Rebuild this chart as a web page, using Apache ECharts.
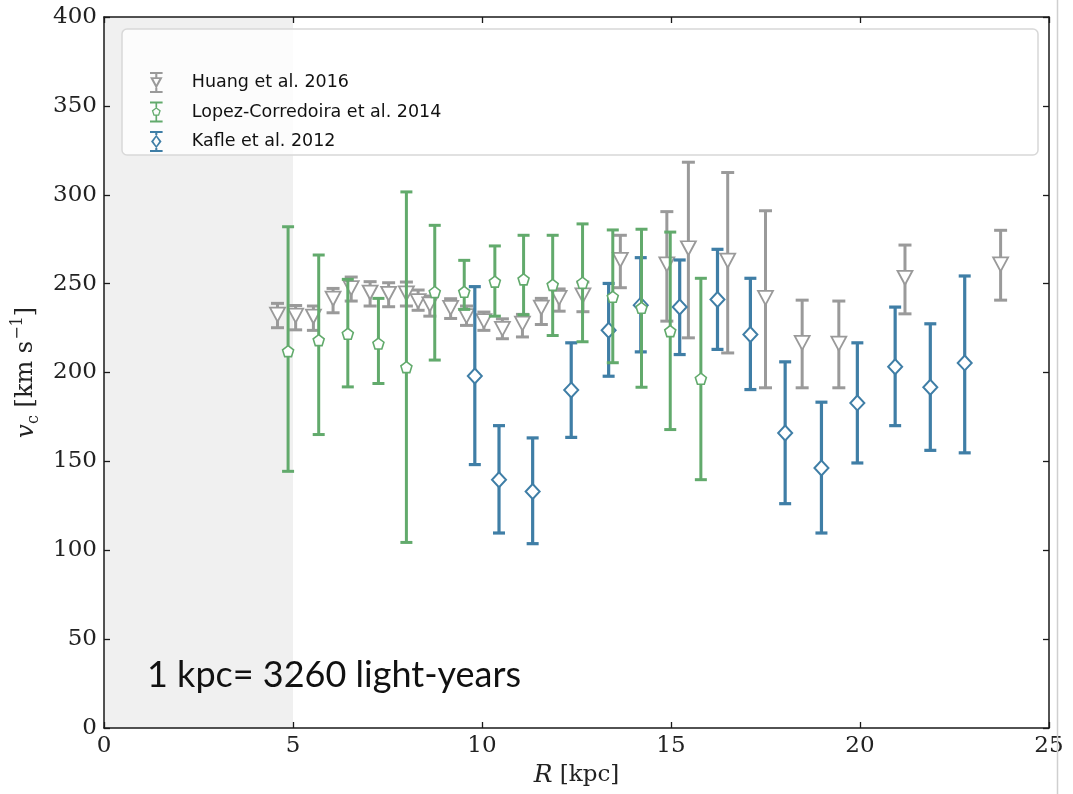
<!DOCTYPE html>
<html>
<head>
<meta charset="utf-8">
<script src="https://cdn.jsdelivr.net/npm/echarts@6/dist/echarts.min.js"></script>
<style>
  html, body { margin: 0; padding: 0; background: #ffffff; }
  #chart { width: 1073px; height: 794px; }
</style>
</head>
<body>
<div id="chart"></div>
<script>
// ---------- data ----------
const xTicks = [0, 5, 10, 15, 20, 25];
const yTicks = [0, 50, 100, 150, 200, 250, 300, 350, 400];
const shadedRange = [0, 5];

// Huang et al. 2016
const huangR  = [4.59, 5.07, 5.54, 6.06, 6.54, 7.04, 7.53, 8.00, 8.31, 8.62, 9.17, 9.59, 10.05, 10.54, 11.07, 11.57, 12.04, 12.67, 13.66, 14.89, 15.46, 16.50, 17.50, 18.47, 19.44, 21.19, 23.72];
const huangV  = [232.5, 232, 231.5, 241.5, 247.5, 245, 244.3, 244.5, 240.2, 238.3, 236.4, 231.7, 228.9, 224.6, 227.5, 236.5, 242, 243.4, 263.3, 260.8, 269.9, 262.9, 242, 216.7, 216.3, 253.3, 260.8];
const huangHi = [238.9, 237.7, 237.4, 247.3, 253.7, 251.1, 250.5, 250.9, 246.4, 243, 241.5, 237.4, 234, 230.2, 232.7, 241.7, 247, 250.9, 277.2, 290.5, 318.3, 312.5, 291, 240.7, 240.2, 271.7, 280];
const huangLo = [225.2, 224, 223.7, 233.6, 240.2, 237.4, 237, 237.4, 235, 231.7, 230.4, 226.5, 223.7, 219, 220, 227, 234.5, 234.2, 247.7, 228.9, 219.5, 211, 191.4, 191.4, 191.4, 233, 240.7];

// Lopez-Corredoira et al. 2014
const lopezR  = [4.87, 5.68, 6.45, 7.26, 8.00, 8.75, 9.53, 10.34, 11.10, 11.87, 12.66, 13.46, 14.22, 14.98, 15.79];
const lopezV  = [212, 218.2, 221.8, 216.3, 203, 245.3, 245.4, 251.1, 252.4, 249.3, 250.5, 242.6, 236.4, 223.3, 196.5];
const lopezHi = [282, 266.1, 252.4, 241.7, 301.6, 282.8, 263.1, 271.2, 277.2, 277.2, 283.6, 280.2, 280.6, 279, 253];
const lopezLo = [144.4, 165.1, 191.9, 193.8, 104.4, 207, 235.5, 231.7, 232.5, 220.8, 217.3, 205.5, 191.7, 167.9, 139.7];

// Kafle et al. 2012
const kafleR  = [9.81, 10.45, 11.34, 12.36, 13.35, 14.20, 15.23, 16.23, 17.10, 18.02, 18.98, 19.93, 20.93, 21.86, 22.77];
const kafleV  = [198, 139.7, 133.1, 190.1, 223.8, 237.9, 236.8, 241.1, 221.4, 166, 146.3, 182.9, 203.2, 191.7, 205.4];
const kafleHi = [248.3, 170.1, 163.2, 216.7, 250.1, 264.6, 263.3, 269.3, 253, 206, 183.3, 216.7, 236.8, 227.4, 254.3];
const kafleLo = [148.2, 109.7, 103.7, 163.5, 197.9, 211.6, 210.1, 213, 190.4, 126.2, 109.7, 149.1, 170.1, 156.2, 154.8];

const seriesNames = ['Huang et al. 2016', 'Lopez-Corredoira et al. 2014', 'Kafle et al. 2012'];
const noteText = '1 kpc= 3260 light-years';

// ---------- styles ----------
const GRAY = '#9a9a9a';
const GREEN = '#62aa6c';
const BLUE = '#3f7ea6';
const SERIF = '"DejaVu Serif", "Liberation Serif", serif';

function zip4(r, v, hi, lo) { return r.map((x, i) => [x, v[i], hi[i], lo[i]]); }

function errorBarSeries(name, data, color, lw, capHalf, z) {
  return {
    name: name,
    type: 'custom',
    z: z,
    silent: true,
    itemStyle: { color: color },
    encode: { x: 0, y: [2, 3] },
    data: data,
    renderItem: function (params, api) {
      const x = api.value(0);
      const top = api.coord([x, api.value(2)]);
      const bot = api.coord([x, api.value(3)]);
      const st = { stroke: color, lineWidth: lw, lineCap: 'butt', fill: null };
      return {
        type: 'group',
        children: [
          { type: 'line', shape: { x1: top[0], y1: top[1], x2: bot[0], y2: bot[1] }, style: st },
          { type: 'line', shape: { x1: top[0] - capHalf, y1: top[1], x2: top[0] + capHalf, y2: top[1] }, style: st },
          { type: 'line', shape: { x1: bot[0] - capHalf, y1: bot[1], x2: bot[0] + capHalf, y2: bot[1] }, style: st }
        ]
      };
    }
  };
}

function markerSeries(name, r, v, symbol, size, rotate, color, bw, z) {
  return {
    name: name,
    type: 'scatter',
    z: z,
    silent: true,
    symbol: symbol,
    symbolSize: size,
    symbolRotate: rotate,
    itemStyle: { color: '#ffffff', borderColor: color, borderWidth: bw, opacity: 1 },
    data: r.map((x, i) => [x, v[i]])
  };
}

const PENTAGON = 'path://M0,-1 L0.951,-0.309 L0.588,0.809 L-0.588,0.809 L-0.951,-0.309 Z';

// legend icons (error bar + hollow marker), drawn in a 12x20 box
const ICON_TRI = 'path://M0,0 L12,0 L12,2 L0,2 Z M5,2 L7,2 L7,5 L5,5 Z M0,5 L12,5 L6,16 Z M3.2,6.6 L6,11.9 L8.8,6.6 Z M5,15 L7,15 L7,18 L5,18 Z M0,18 L12,18 L12,20 L0,20 Z';
const ICON_PENT = 'path://M0,0 L12,0 L12,2 L0,2 Z M5.2,2 L6.8,2 L6.8,5.8 L5.2,5.8 Z M6,5.5 L10.28,8.61 L8.65,13.64 L3.35,13.64 L1.72,8.61 Z M6,7 L3.15,9.07 L4.24,12.43 L7.76,12.43 L8.85,9.07 Z M5.2,13.4 L6.8,13.4 L6.8,18 L5.2,18 Z M0,18 L12,18 L12,20 L0,20 Z';
const ICON_DIA = 'path://M0,0 L12,0 L12,2 L0,2 Z M5,2 L7,2 L7,3.8 L5,3.8 Z M6,3.5 L11,10 L6,16.5 L1,10 Z M6,6 L3.2,10 L6,14 L8.8,10 Z M5,16.2 L7,16.2 L7,18 L5,18 Z M0,18 L12,18 L12,20 L0,20 Z';

const chart = echarts.init(document.getElementById('chart'), null, { renderer: 'canvas' });

const axisLineStyle = { color: '#1a1a1a', width: 1.5 };
const tickCommon = { show: true, inside: true, length: 6, lineStyle: { color: '#1a1a1a', width: 1.3 } };

const option = {
  backgroundColor: '#ffffff',
  animation: false,
  grid: { left: 104, top: 17, right: 24, bottom: 66, containLabel: false },
  legend: {
    orient: 'vertical',
    left: 145,
    top: 67,
    z: 10,
    itemWidth: 13,
    itemHeight: 21,
    itemGap: 8.5,
    selectedMode: false,
    textStyle: { fontFamily: '"DejaVu Sans", sans-serif', fontSize: 17.5, color: '#111', padding: [0, 0, 0, 24] },
    data: [
      { name: seriesNames[0], icon: ICON_TRI, itemStyle: { color: GRAY, borderWidth: 0 } },
      { name: seriesNames[1], icon: ICON_PENT, itemStyle: { color: GREEN, borderWidth: 0 } },
      { name: seriesNames[2], icon: ICON_DIA, itemStyle: { color: BLUE, borderWidth: 0 } }
    ]
  },
  xAxis: [
    {
      type: 'value', min: 0, max: 25, interval: 5,
      axisLine: { show: true, onZero: false, lineStyle: axisLineStyle },
      axisTick: tickCommon,
      splitLine: { show: false },
      axisLabel: { fontFamily: SERIF, fontSize: 23, color: '#222', margin: 7,
        formatter: v => xTicks.indexOf(v) >= 0 ? String(v) : '' },
      name: '{i|R}{t| [kpc]}',
      nameLocation: 'middle',
      nameGap: 31,
      nameTextStyle: {
        rich: {
          i: { fontFamily: SERIF, fontStyle: 'italic', fontSize: 25, color: '#222' },
          t: { fontFamily: SERIF, fontSize: 23, color: '#222' }
        }
      }
    },
    {
      type: 'value', position: 'top', min: 0, max: 25, interval: 5,
      axisLine: { show: true, onZero: false, lineStyle: axisLineStyle },
      axisTick: tickCommon,
      axisLabel: { show: false },
      splitLine: { show: false }
    }
  ],
  yAxis: [
    {
      type: 'value', min: 0, max: 400, interval: 50,
      axisLine: { show: true, onZero: false, lineStyle: axisLineStyle },
      axisTick: tickCommon,
      splitLine: { show: false },
      axisLabel: { fontFamily: SERIF, fontSize: 23, color: '#222', margin: 7,
        formatter: v => yTicks.indexOf(v) >= 0 ? String(v) : '' },
      name: '{i|v}{s|c}{t| [km s}{p|−1}{t|]}',
      nameLocation: 'middle',
      nameRotate: 90,
      nameGap: 56,
      nameTextStyle: {
        rich: {
          i: { fontFamily: SERIF, fontStyle: 'italic', fontSize: 25, color: '#222', lineHeight: 32 },
          s: { fontFamily: SERIF, fontSize: 16, color: '#222', verticalAlign: 'bottom', lineHeight: 32, padding: [8, 0, 0, 0] },
          t: { fontFamily: SERIF, fontSize: 24, color: '#222', lineHeight: 32 },
          p: { fontFamily: SERIF, fontSize: 16, color: '#222', verticalAlign: 'top', lineHeight: 32, padding: [0, 0, 10, 1] }
        }
      }
    },
    {
      type: 'value', position: 'right', min: 0, max: 400, interval: 50,
      axisLine: { show: true, onZero: false, lineStyle: axisLineStyle },
      axisTick: tickCommon,
      axisLabel: { show: false },
      splitLine: { show: false }
    }
  ],
  graphic: [
    {
      type: 'rect', z: 5, silent: true,
      shape: { x: 122, y: 29, width: 916, height: 126, r: 5 },
      style: { fill: 'rgba(255,255,255,0.8)', stroke: '#d8d8d8', lineWidth: 1.5 }
    },
    {
      type: 'text', z: 6, left: 147, top: 657, silent: true,
      style: { text: noteText, fontFamily: 'Lato, "Open Sans", sans-serif', fontSize: 36, fill: '#111' }
    },
    {
      type: 'line', z: 6, silent: true,
      shape: { x1: 1057.5, y1: 0, x2: 1057.5, y2: 794 },
      style: { stroke: '#cfcfcf', lineWidth: 1.5 }
    }
  ],
  series: [
    {
      name: 'shade',
      type: 'custom',
      z: 0,
      silent: true,
      data: [shadedRange],
      renderItem: function (params, api) {
        const a = api.coord([api.value(0), 400]);
        const b = api.coord([api.value(1), 0]);
        return { type: 'rect', shape: { x: a[0], y: a[1], width: b[0] - a[0], height: b[1] - a[1] }, style: { fill: '#f0f0f0' } };
      }
    },
    errorBarSeries(seriesNames[0], zip4(huangR, huangV, huangHi, huangLo), GRAY, 3, 6.5, 1),
    markerSeries(seriesNames[0], huangR, huangV, 'triangle', [15, 14], 180, GRAY, 1.8, 2),
    errorBarSeries(seriesNames[2], zip4(kafleR, kafleV, kafleHi, kafleLo), BLUE, 3.2, 6, 3),
    markerSeries(seriesNames[2], kafleR, kafleV, 'diamond', [14, 15], 0, BLUE, 2, 4),
    errorBarSeries(seriesNames[1], zip4(lopezR, lopezV, lopezHi, lopezLo), GREEN, 3, 6, 5),
    markerSeries(seriesNames[1], lopezR, lopezV, PENTAGON, [11, 11], 0, GREEN, 1.6, 6)
  ]
};

chart.setOption(option);
</script>
</body>
</html>
